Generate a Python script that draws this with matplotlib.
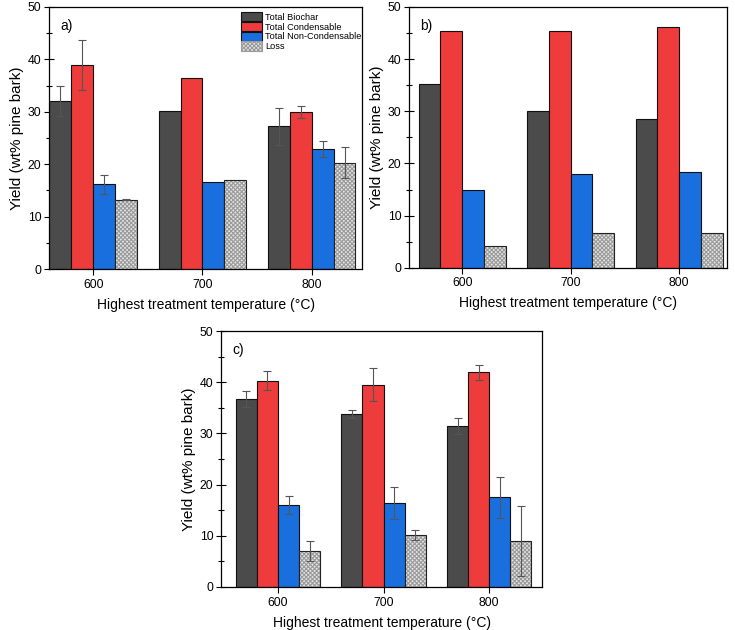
import matplotlib
matplotlib.use("Agg")
import matplotlib.pyplot as plt
from matplotlib.patches import Patch
import numpy as np

plt.rcParams['font.family'] = ['Liberation Sans', 'DejaVu Sans']
plt.rcParams['hatch.linewidth'] = 0.8

temps = ['600', '700', '800']
series = ['Total Biochar', 'Total Condensable', 'Total Non-Condensable', 'Loss']
colors = ['#4b4b4b', '#ee3b3b', '#1a6fde', '#e4e4e4']

# panel a
a_biochar = [32.0, 30.2, 27.2]
a_cond = [38.9, 36.4, 30.0]
a_noncond = [16.2, 16.6, 22.9]
a_loss = [13.2, 17.0, 20.3]
a_biochar_err = [2.9, 0, 3.5]
a_cond_err = [4.8, 0, 1.1]
a_noncond_err = [1.8, 0, 1.5]
a_loss_err = [0.1, 0, 3.0]

# panel b
b_biochar = [35.2, 30.1, 28.5]
b_cond = [45.4, 45.3, 46.2]
b_noncond = [15.0, 17.9, 18.4]
b_loss = [4.1, 6.6, 6.7]

# panel c
c_biochar = [36.7, 33.8, 31.5]
c_cond = [40.3, 39.5, 41.9]
c_noncond = [16.0, 16.4, 17.5]
c_loss = [7.0, 10.2, 9.0]
c_biochar_err = [1.6, 0.7, 1.6]
c_cond_err = [1.8, 3.2, 1.4]
c_noncond_err = [1.7, 3.1, 4.0]
c_loss_err = [1.9, 1.0, 6.8]

fig = plt.figure(figsize=(7.35, 6.3), dpi=100)
axa = fig.add_axes([0.0667, 0.573, 0.4258, 0.416])
axb = fig.add_axes([0.5565, 0.575, 0.4325, 0.414])
axc = fig.add_axes([0.3007, 0.0683, 0.4367, 0.4063])

width = 0.2
x = np.arange(len(temps))
HATCH = 'xxxxxxxx'
HATCH_COLOR = '#9a9a9a'


def draw(ax, vals, errs, label, xlim, legend=False):
    handles = []
    for i, (v, c, name) in enumerate(zip(vals, colors, series)):
        pos = x + (i - 1.5) * width
        if name == 'Loss':
            ax.bar(pos, v, width, color=c, edgecolor=HATCH_COLOR, linewidth=0,
                   hatch=HATCH, zorder=2)
            ax.bar(pos, v, width, fill=False, edgecolor='#222222',
                   linewidth=0.8, zorder=2.5)
            h = Patch(facecolor=c, edgecolor=HATCH_COLOR, hatch=HATCH,
                      linewidth=0.8)
        else:
            h = ax.bar(pos, v, width, color=c, edgecolor='#111111',
                       linewidth=0.8, zorder=2)
        handles.append(h)
        if errs is not None:
            ee = np.array(errs[i])
            mask = ee > 0
            ax.errorbar(pos[mask], np.array(v)[mask], yerr=ee[mask], fmt='none',
                        ecolor='#555555', elinewidth=0.8, capsize=3, capthick=0.8,
                        zorder=3)
    ax.set_xlim(*xlim)
    ax.set_ylim(0, 50)
    ax.set_xticks(x)
    ax.set_xticklabels(temps)
    ax.set_yticks(np.arange(0, 51, 10))
    ax.set_yticks(np.arange(5, 50, 10), minor=True)
    ax.tick_params(axis='x', labelsize=8.8, direction='out', length=4,
                   width=0.8, pad=3)
    ax.tick_params(axis='y', which='major', labelsize=8.8, direction='inout',
                   length=7, width=0.8, pad=2)
    ax.tick_params(axis='y', which='minor', direction='inout', length=5,
                   width=0.8)
    ax.set_ylabel('Yield (wt% pine bark)', fontsize=11, labelpad=3)
    ax.set_xlabel('Highest treatment temperature (\u00b0C)', fontsize=10,
                  labelpad=5)
    for s in ax.spines.values():
        s.set_linewidth(0.9)
    ax.text(0.035, 0.955, label, transform=ax.transAxes, fontsize=10,
            ha='left', va='top')
    if legend:
        ax.legend(handles, series, loc='upper left',
                  bbox_to_anchor=(0.615, 0.98), frameon=False,
                  fontsize=6.6, handlelength=2.2, handleheight=1.17,
                  labelspacing=0.0, handletextpad=0.35, borderaxespad=0.0,
                  borderpad=0.0)


draw(axa, [a_biochar, a_cond, a_noncond, a_loss],
     [a_biochar_err, a_cond_err, a_noncond_err, a_loss_err], 'a)',
     (-0.404, 2.46), legend=True)
draw(axb, [b_biochar, b_cond, b_noncond, b_loss], None, 'b)', (-0.49, 2.44))
draw(axc, [c_biochar, c_cond, c_noncond, c_loss],
     [c_biochar_err, c_cond_err, c_noncond_err, c_loss_err], 'c)',
     (-0.54, 2.50))

fig.savefig('out.png', dpi=100)
